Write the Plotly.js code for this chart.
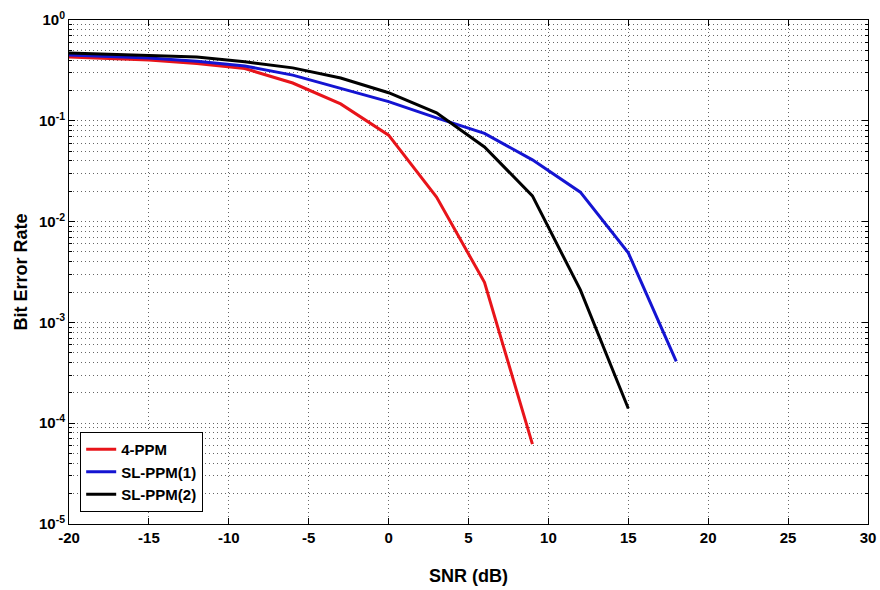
<!DOCTYPE html>
<html><head><meta charset="utf-8">
<script src="https://cdn.plot.ly/plotly-3.0.1.min.js"></script>
<style>html,body{margin:0;padding:0;background:#fff}#chart{width:880px;height:590px}</style>
</head><body><div id="chart"></div>
<script>
const snr4 = [-20, -18, -15, -12, -9, -6, -3, 0, 3, 6, 9];
const ber4ppm = [0.43, 0.42, 0.40, 0.37, 0.33, 0.237, 0.147, 0.072, 0.0175, 0.0025, 0.000062];
const snrSL1 = [-20, -18, -15, -12, -9, -6, -3, 0, 3, 6, 9, 12, 15, 18];
const berSL1 = [0.45, 0.44, 0.42, 0.39, 0.35, 0.284, 0.21, 0.155, 0.107, 0.075, 0.041, 0.0196, 0.0049, 0.00041];
const snrSL2 = [-20, -18, -15, -12, -9, -6, -3, 0, 3, 6, 9, 12, 15];
const berSL2 = [0.47, 0.46, 0.45, 0.43, 0.385, 0.335, 0.266, 0.19, 0.12, 0.055, 0.018, 0.0021, 0.00014];
const names = ['4-PPM', 'SL-PPM(1)', 'SL-PPM(2)'];
const colors = ['#e8141a', '#1414d2', '#000000'];
const xTicks = [-20, -15, -10, -5, 0, 5, 10, 15, 20, 25, 30];
const yExps = [0, -1, -2, -3, -4, -5];

const yMajor = yExps.map(e => Math.pow(10, e));
const yMajorText = yExps.map(e => '10<sup>' + e + '</sup>');
const yMinor = [];
for (let e = -5; e < 0; e++) {
  for (let m = 2; m <= 9; m++) yMinor.push(m * Math.pow(10, e));
}

const xs = [snr4, snrSL1, snrSL2], ys = [ber4ppm, berSL1, berSL2];
const traces = names.map((n, i) => ({
  x: xs[i], y: ys[i], name: n, mode: 'lines', type: 'scatter',
  line: {color: colors[i], width: 3}
}));

const gridCol = '#666';
const gDash = '1px,3px';
const layout = {
  width: 880, height: 590,
  margin: {l: 69, r: 12, t: 20, b: 66},
  paper_bgcolor: '#fff', plot_bgcolor: '#fff',
  font: {family: 'Arial, Liberation Sans, sans-serif', color: '#000'},
  showlegend: true,
  legend: {x: 0.014, y: 0.024, xanchor: 'left', yanchor: 'bottom',
    bgcolor: '#fff', bordercolor: '#000', borderwidth: 1,
    font: {size: 15, family: 'Arial, Liberation Sans, sans-serif', weight: 'bold'},
    tracegroupgap: 0},
  xaxis: {range: [-20, 30], tickvals: xTicks, ticktext: xTicks.map(String),
    showgrid: true, gridcolor: gridCol, griddash: gDash, gridwidth: 1,
    zeroline: false, showline: true, linecolor: '#000', linewidth: 1, mirror: 'ticks',
    ticks: 'inside', ticklen: 6, tickcolor: '#000',
    tickfont: {size: 15, weight: 'bold'},
    title: {text: 'SNR (dB)', font: {size: 18, weight: 'bold'}, standoff: 24}},
  yaxis: {type: 'log', range: [-5, 0], tickvals: yMajor, ticktext: yMajorText,
    showgrid: true, gridcolor: gridCol, griddash: gDash, gridwidth: 1,
    zeroline: false, showline: true, linecolor: '#000', linewidth: 1, mirror: 'ticks',
    ticks: 'inside', ticklen: 6, tickcolor: '#000',
    tickfont: {size: 15, weight: 'bold'},
    minor: {tickvals: yMinor, ticks: 'inside', ticklen: 3, tickcolor: '#000',
      showgrid: true, gridcolor: gridCol, griddash: gDash, gridwidth: 1},
    title: {text: 'Bit Error Rate', font: {size: 18, weight: 'bold'}, standoff: 6}}
};
Plotly.newPlot('chart', traces, layout, {displayModeBar: false, staticPlot: true});
</script></body></html>
